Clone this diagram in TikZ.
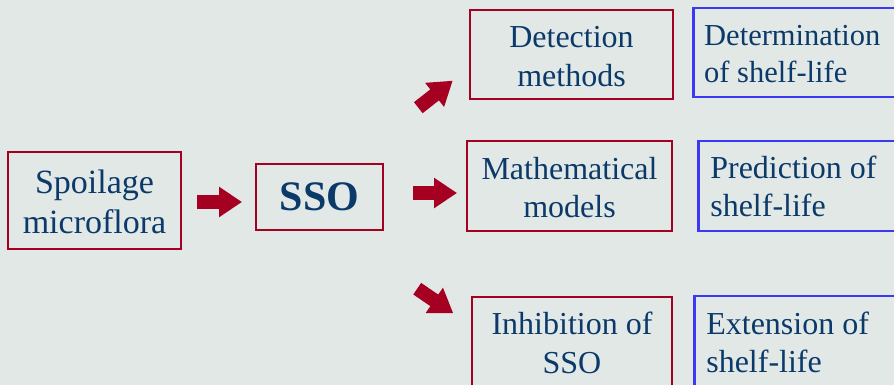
\documentclass[tikz,border=0pt]{standalone}
\usepackage{fontspec}
\setmainfont{Liberation Serif}
\usetikzlibrary{arrows.meta}
\definecolor{bg}{HTML}{E2E8E6}
\definecolor{boxred}{HTML}{A50021}
\definecolor{boxblue}{HTML}{3A3AF5}
\definecolor{txt}{HTML}{0B3A6A}
\tikzset{
  redbox/.style={draw=boxred, line width=2.6pt, text=txt, align=flush center, inner sep=0pt,
    font=\fontsize{32}{38.5}\selectfont},
  bluebox/.style={draw=boxblue, line width=2.6pt, text=txt, align=flush left, inner sep=0pt,
    font=\fontsize{32}{38}\selectfont, anchor=west, text width=200pt, inner xsep=12pt},
  blockarrow/.style={draw=boxred, line width=14pt, -{Triangle[length=23pt,width=29pt]}}
}
\begin{document}
\begin{tikzpicture}[x=1pt,y=-1pt]
\fill[bg] (0,0) rectangle (894,385);
\useasboundingbox (0,0) rectangle (894,385);
\node[redbox, minimum width=173pt, minimum height=97pt] (spoil) at (94.5,200.5) {};
\node[text=txt, align=flush center, font=\fontsize{34}{39.5}\selectfont, inner sep=0pt] (spoiltext) at (94.5,202) {Spoilage\\microflora};
\node[redbox, minimum width=127pt, minimum height=66pt, font=\fontsize{42}{48}\bfseries] (sso) at (319.5,197) {SSO};
\node[redbox, minimum width=203pt, minimum height=89pt] (detect) at (571.5,54.5) {};
\node[text=txt, align=flush center, font=\fontsize{32}{38.5}\selectfont, inner sep=0pt] (detecttext) at (571.5,56.5) {Detection\\methods};
\node[redbox, minimum width=205pt, minimum height=90pt] (math) at (569.5,186) {};
\node[text=txt, align=flush center, font=\fontsize{32}{38.5}\selectfont, inner sep=0pt] (mathtext) at (569.5,187.5) {Mathematical\\models};
\node[redbox, minimum width=200pt, minimum height=92pt] (inhib) at (572,343) {Inhibition of\\SSO};
\node[draw=boxblue, line width=2.6pt, anchor=west, minimum width=220pt, minimum height=89pt] (determ) at (692,52.5) {};
\node[text=txt, align=flush left, anchor=west, font=\fontsize{30.5}{37}\selectfont, inner sep=0pt] (determtext) at (704,54.5) {Determination\\of shelf-life};
\node[bluebox, minimum height=90pt] (predict) at (697,186) {Prediction of\\shelf-life};
\node[bluebox, minimum height=92pt] (extend) at (693,342) {Extension of\\shelf-life};
\coordinate (a1s) at (197,202);
\coordinate (a1e) at (242,202);
\coordinate (a2s) at (413,193);
\coordinate (a2e) at (457,193);
\coordinate (a3s) at (418.3,107.7);
\coordinate (a3e) at (452.7,80.7);
\coordinate (a4s) at (417.2,288.7);
\coordinate (a4e) at (453.3,313.3);
\draw[blockarrow] (a1s) -- (a1e);
\draw[blockarrow] (a2s) -- (a2e);
\draw[blockarrow] (a3s) -- (a3e);
\draw[blockarrow] (a4s) -- (a4e);
\end{tikzpicture}
\end{document}
